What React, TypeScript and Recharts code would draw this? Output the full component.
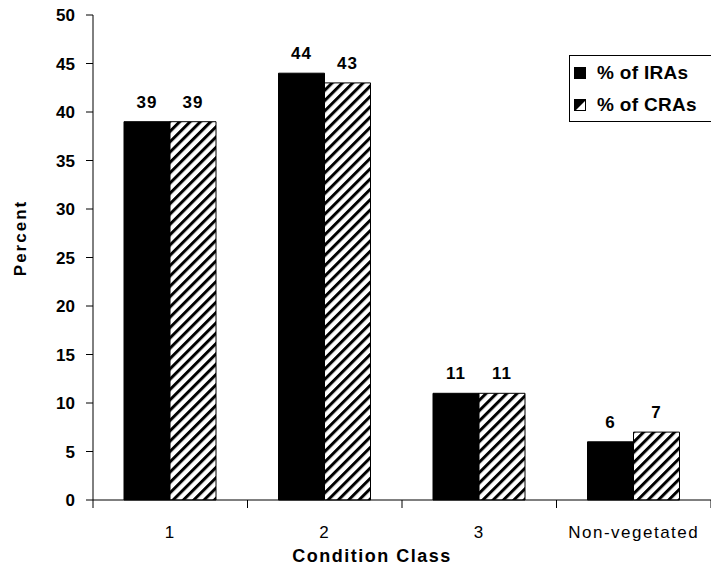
import React from 'react';
import { BarChart, Bar, XAxis, YAxis, LabelList, Label } from 'recharts';

const categories = ['1', '2', '3', 'Non-vegetated'];
const iraValues = [39, 44, 11, 6];
const craValues = [39, 43, 11, 7];
const yTicks = [0, 5, 10, 15, 20, 25, 30, 35, 40, 45, 50];

const data = categories.map((c, i) => ({ name: c, ira: iraValues[i], cra: craValues[i] }));

const FONT = 'Arial, "Liberation Sans", Helvetica, sans-serif';

function XTick(props: any) {
  const { x, y, payload, index } = props;
  const half = payload.offset || 0;
  return (
    <g>
      <line x1={x - half} y1={y - 8} x2={x - half} y2={y} stroke="#000" />
      {index === categories.length - 1 && (
        <line x1={x + half} y1={y - 8} x2={x + half} y2={y} stroke="#000" />
      )}
      <text x={x} y={y + 30} textAnchor="middle" fontSize={17} letterSpacing={1.5} fontFamily={FONT} fill="#000">
        {payload.value}
      </text>
    </g>
  );
}

function LegendBox() {
  const row: React.CSSProperties = { display: 'flex', alignItems: 'center', height: 32 };
  return (
    <div
      style={{
        position: 'absolute',
        left: 569,
        top: 55,
        width: 150,
        height: 67,
        border: '1px solid #000',
        background: '#fff',
        padding: '1px 0 0 4px',
        fontFamily: FONT,
        fontWeight: 'bold',
        fontSize: 19,
        letterSpacing: 0.3,
        boxSizing: 'border-box',
        whiteSpace: 'nowrap',
      }}
    >
      <div style={row}>
        <svg width={12} height={12} style={{ marginRight: 11 }}>
          <rect x={0.5} y={0.5} width={11} height={11} fill="#000" stroke="#000" />
        </svg>
        % of IRAs
      </div>
      <div style={row}>
        <svg width={12} height={12} style={{ marginRight: 11 }}>
          <rect x={0.5} y={0.5} width={11} height={11} fill="#fff" stroke="#000" />
          <polygon points="1,11 1,1 11,1" fill="#000" />
          <line x1={1} y1={11} x2={11} y2={1} stroke="#000" strokeWidth={1.5} />
        </svg>
        % of CRAs
      </div>
    </div>
  );
}

export default function App() {
  return (
    <div style={{ position: 'absolute', left: 0, top: 0, width: 711, height: 567, overflow: 'hidden', background: '#fff' }}>
      <BarChart width={711} height={567} data={data} margin={{ top: 15, right: 0, bottom: 0, left: 0 }} barGap={0}>
        <defs>
          <pattern id="hatch" patternUnits="userSpaceOnUse" width={7.3} height={7.3} patternTransform="rotate(45)">
            <rect width={7.3} height={7.3} fill="#fff" />
            <line x1={0} y1={0} x2={0} y2={7.3} stroke="#000" strokeWidth={6} />
          </pattern>
        </defs>
        <XAxis
          dataKey="name"
          height={67}
          stroke="#000"
          tickLine={false}
          interval={0}
          tick={<XTick />}
        >
          <Label
            value="Condition Class"
            position="insideBottom"
            offset={5}
            dx={-30}
            style={{ fontFamily: FONT, fontWeight: 'bold', fontSize: 18, letterSpacing: 1.5, fill: '#000' }}
          />
        </XAxis>
        <YAxis
          domain={[0, 50]}
          ticks={yTicks}
          width={93}
          stroke="#000"
          tickSize={7}
          tickMargin={11}
          tick={{ fontFamily: FONT, fontWeight: 'bold', fontSize: 17, fill: '#000' }}
        >
          <Label
            content={() => (
              <text
                transform="translate(26,238) rotate(-90)"
                textAnchor="middle"
                fontFamily={FONT}
                fontWeight="bold"
                fontSize={17}
                letterSpacing={2}
                fill="#000"
              >
                Percent
              </text>
            )}
          />
        </YAxis>
        <Bar dataKey="ira" name="% of IRAs" fill="#000" stroke="#000" barSize={46} isAnimationActive={false}>
          <LabelList
            dataKey="ira"
            position="top"
            offset={14}
            style={{ fontFamily: FONT, fontWeight: 'bold', fontSize: 17, letterSpacing: 1, fill: '#000' }}
          />
        </Bar>
        <Bar dataKey="cra" name="% of CRAs" fill="url(#hatch)" stroke="#000" barSize={46} isAnimationActive={false}>
          <LabelList
            dataKey="cra"
            position="top"
            offset={14}
            style={{ fontFamily: FONT, fontWeight: 'bold', fontSize: 17, letterSpacing: 1, fill: '#000' }}
          />
        </Bar>
      </BarChart>
      <LegendBox />
    </div>
  );
}
